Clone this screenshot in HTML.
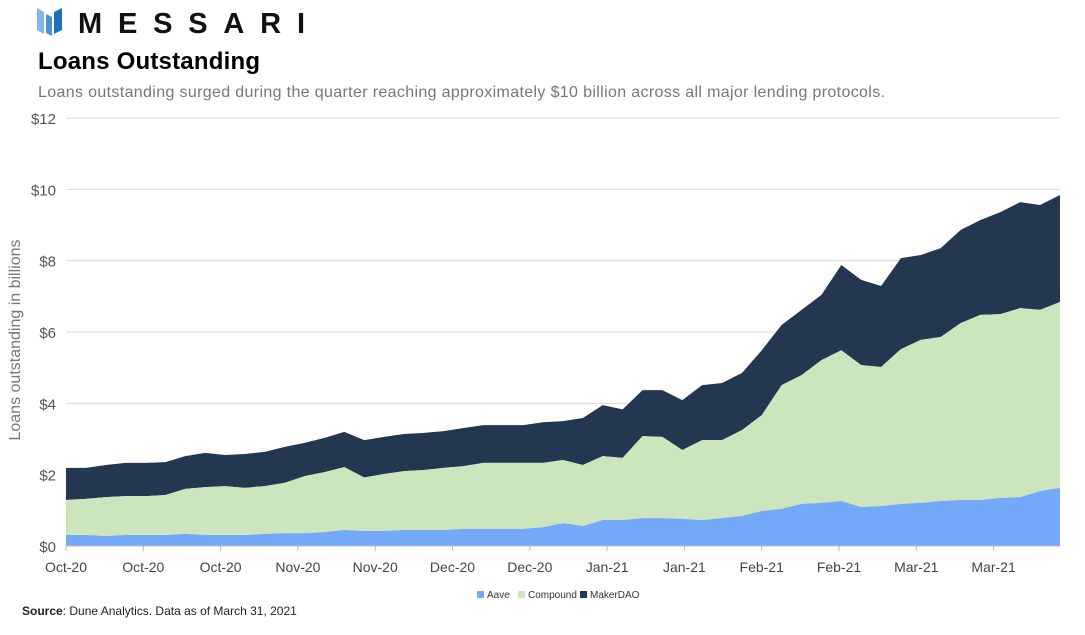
<!DOCTYPE html>
<html><head><meta charset="utf-8"><style>
body{margin:0;background:#fff;width:1085px;height:630px;overflow:hidden;font-family:"Liberation Sans",sans-serif;}
</style></head><body>
<svg width="1085" height="630" xmlns="http://www.w3.org/2000/svg">
<g>
<polygon points="37,8 44,12 44,34 37,30" fill="#7fb8e8"/>
<polygon points="46,14 52,17 52,36 46,33" fill="#4c93d6"/>
<polygon points="54,12 62,8 62,30 54,34" fill="#1e6fbd"/>
<text x="78" y="33" font-size="29" font-weight="bold" fill="#111" textLength="227" lengthAdjust="spacing">MESSARI</text>
</g>
<text x="38" y="69" font-size="24" font-weight="bold" fill="#000" textLength="222">Loans Outstanding</text>
<text x="38" y="97" font-size="16" fill="#777" textLength="847">Loans outstanding surged during the quarter reaching approximately $10 billion across all major lending protocols.</text>
<g id="grid"></g><g id="areas"></g><g id="axes"></g>
<text transform="translate(20,340) rotate(-90)" text-anchor="middle" font-size="16" fill="#777">Loans outstanding in billions</text>
<g font-size="10" fill="#333">
<g><rect x="477" y="591" width="7" height="7" fill="#74a9f9"/><text x="487" y="598">Aave</text></g>
<g><rect x="518" y="591" width="7" height="7" fill="#cde5bd"/><text x="528" y="598">Compound</text></g>
<g><rect x="580" y="591" width="7" height="7" fill="#233850"/><text x="590" y="598">MakerDAO</text></g>
</g>
<text x="22" y="615" font-size="12" fill="#222"><tspan font-weight="bold">Source</tspan>: Dune Analytics. Data as of March 31, 2021</text>
</svg>
<script>
const aave=[0.31,0.31,0.28,0.31,0.31,0.31,0.34,0.31,0.31,0.31,0.34,0.36,0.36,0.39,0.45,0.42,0.42,0.45,0.45,0.45,0.48,0.48,0.48,0.48,0.53,0.64,0.56,0.73,0.73,0.78,0.78,0.76,0.73,0.78,0.84,0.98,1.04,1.18,1.21,1.26,1.09,1.12,1.18,1.21,1.26,1.29,1.29,1.35,1.37,1.54,1.63];
const compound=[0.98,1.01,1.09,1.09,1.09,1.12,1.26,1.34,1.37,1.32,1.34,1.41,1.60,1.68,1.76,1.50,1.60,1.65,1.68,1.74,1.76,1.85,1.85,1.85,1.80,1.77,1.71,1.79,1.74,2.30,2.28,1.93,2.24,2.19,2.41,2.69,3.47,3.61,4.00,4.23,3.98,3.90,4.34,4.57,4.60,4.96,5.19,5.15,5.30,5.08,5.21];
const maker=[0.90,0.87,0.90,0.93,0.93,0.92,0.92,0.96,0.87,0.95,0.96,1.01,0.93,0.96,0.99,1.05,1.04,1.04,1.04,1.03,1.07,1.06,1.06,1.06,1.14,1.09,1.32,1.43,1.36,1.29,1.31,1.40,1.54,1.60,1.60,1.82,1.69,1.83,1.83,2.39,2.39,2.27,2.55,2.38,2.49,2.61,2.66,2.86,2.97,2.94,3.00];
const yTicks=[0,2,4,6,8,10,12];
const xLabels=["Oct-20","Oct-20","Oct-20","Nov-20","Nov-20","Dec-20","Dec-20","Jan-21","Jan-21","Feb-21","Feb-21","Mar-21","Mar-21"];
const NS="http://www.w3.org/2000/svg";
const X0=66,X1=1060,Y0=546,Y12=118;
const xs=i=>X0+(X1-X0)*i/(aave.length-1);
const ys=v=>Y0-(Y0-Y12)*v/12;
function mk(t,a){const e=document.createElementNS(NS,t);for(const k in a)e.setAttribute(k,a[k]);return e;}
const grid=document.getElementById('grid'),areas=document.getElementById('areas'),axes=document.getElementById('axes');
yTicks.forEach(v=>{
 const l=mk('line',{x1:X0,x2:X1,y1:ys(v),y2:ys(v),stroke:'#d9d9d9','stroke-width':1});
 
 
 grid.appendChild(l);
 const t=mk('text',{x:56,y:ys(v)+6,'text-anchor':'end','font-size':15,fill:'#555'});
 t.textContent='$'+v;
 
 
 axes.appendChild(t);
});
const base=aave.map(()=>0),s1=aave.map((v,i)=>v),s2=aave.map((v,i)=>v+compound[i]),s3=aave.map((v,i)=>v+compound[i]+maker[i]);
function area(lo,hi,c,name){
 let d='M'+xs(0)+','+ys(hi[0]);
 for(let i=1;i<hi.length;i++)d+='L'+xs(i)+','+ys(hi[i]);
 for(let i=lo.length-1;i>=0;i--)d+='L'+xs(i)+','+ys(lo[i]);
 const p=mk('path',{d:d+'Z',fill:c});
 
 
 areas.appendChild(p);
}
area(s2,s3,'#233850','area-makerdao');
area(s1,s2,'#cde5bd','area-compound');
area(base,s1,'#74a9f9','area-aave');
const ax=mk('line',{x1:X0,x2:X1,y1:Y0,y2:Y0,stroke:'#bbb'});


axes.appendChild(ax);
const step=77.3;
xLabels.forEach((s,i)=>{
 const x=X0+i*step;
 const tk=mk('line',{x1:x,x2:x,y1:Y0,y2:Y0+5,stroke:'#bbb'});
 
 
 axes.appendChild(tk);
 const t=mk('text',{x:x,y:572,'text-anchor':'middle','font-size':14,fill:'#444'});
 t.textContent=s;
 
 
 axes.appendChild(t);
});
</script>
</body></html>
